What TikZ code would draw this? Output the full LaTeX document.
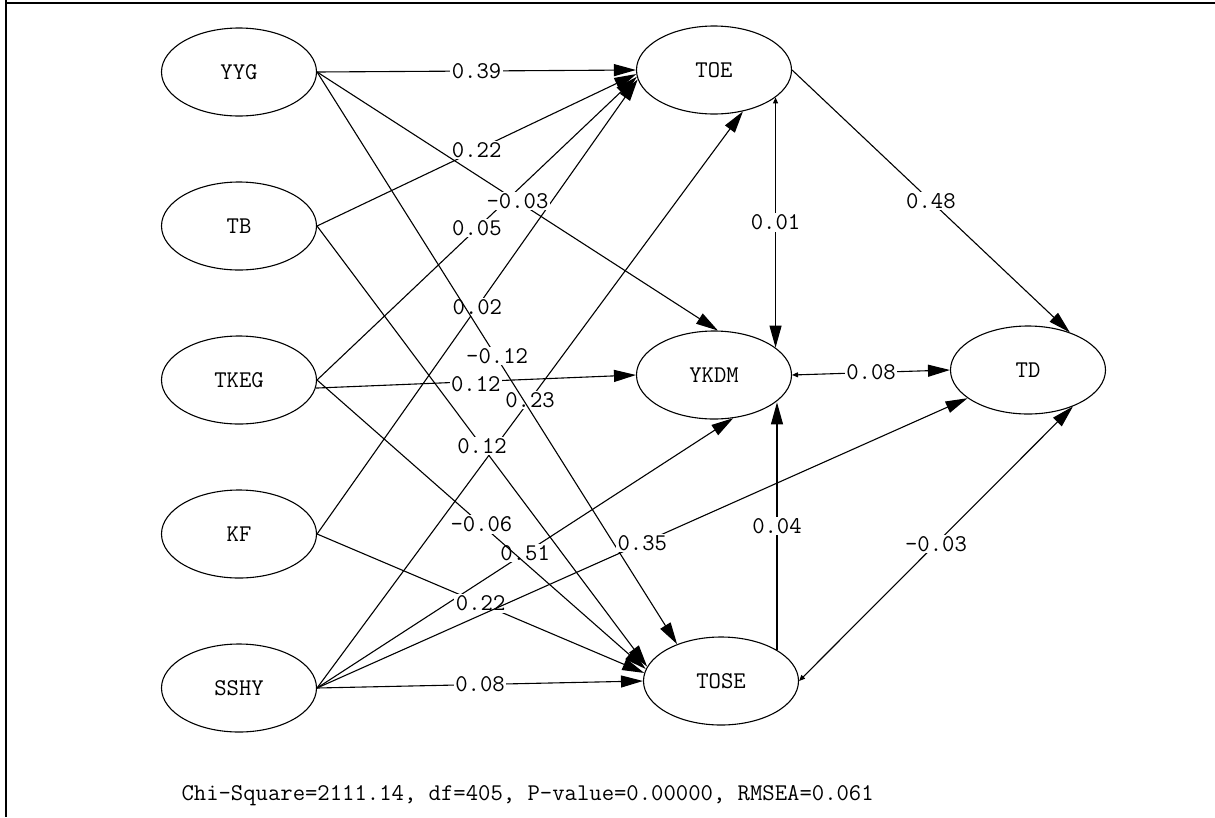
\documentclass[tikz,border=0pt]{standalone}
\usetikzlibrary{shapes.geometric,arrows.meta}
\begin{document}
\begin{tikzpicture}[x=1pt,y=-1pt,
  lat/.style={ellipse,draw,line width=1.1pt,minimum width=155pt,minimum height=88pt,inner sep=0pt,font=\ttfamily\fontsize{24}{28}\selectfont},
  conn/.style={line width=1.1pt,-{Triangle[length=22pt,width=12pt]}},
  both/.style={line width=1.1pt,{Triangle[length=6pt,width=5pt]}-{Triangle[length=22pt,width=12pt]}},
  lbl/.style={fill=white,inner sep=1.5pt,font=\ttfamily\fontsize{24}{28}\selectfont},
  frame/.style={line width=2.5pt}]
\useasboundingbox (0,0) rectangle (1215,817);
\coordinate (f1) at (6,0);
\coordinate (f2) at (6,817);
\coordinate (f3) at (5,3);
\coordinate (f4) at (1215,3);
\draw[frame] (f1) -- (f2);
\draw[frame] (f3) -- (f4);

\node[lat] (YYG)  at (239,72)  {YYG};
\node[lat] (TB)   at (239,226) {TB};
\node[lat] (TKEG) at (239,380) {TKEG};
\node[lat] (KF)   at (239,534) {KF};
\node[lat] (SSHY) at (239,688) {SSHY};
\node[lat] (TOE)  at (714,70)  {TOE};
\node[lat] (YKDM) at (714,375) {YKDM};
\node[lat] (TOSE) at (721,681) {TOSE};
\node[lat] (TD)   at (1028,370) {TD};

\draw[conn] (YYG.east) -- node[lbl]{0.39} (TOE.west);
\draw[conn] (TB.east) -- node[lbl]{0.22} (TOE.183);
\draw[conn] (TKEG.east) -- node[lbl]{0.05} (TOE.185);
\draw[conn] (KF.east) -- node[lbl]{0.02} (TOE.187);
\draw[conn] (SSHY.east) -- node[lbl]{0.23} (TOE.-55);
\draw[conn] (YYG.east) -- node[lbl]{-0.03} (YKDM.85);
\draw[conn] (TKEG.-6) -- node[lbl,yshift=-3pt]{0.12} (YKDM.west);
\draw[conn] (SSHY.east) -- node[lbl]{0.51} (YKDM.-66);
\draw[conn] (YYG.east) -- node[lbl,yshift=2pt]{-0.12} (TOSE.140);
\draw[conn] (TB.east) -- node[lbl]{0.12} (TOSE.169);
\draw[conn] (TKEG.east) -- node[lbl]{-0.06} (TOSE.171);
\draw[conn] (KF.east) -- node[lbl]{0.22} (TOSE.174);
\draw[conn] (SSHY.east) -- node[lbl]{0.08} (TOSE.west);
\draw[conn] (SSHY.east) -- node[lbl]{0.35} (TD.205);
\draw[both] (TOE.-24) -- node[lbl]{0.01} (TOE.-24 |- YKDM.24);
\draw[conn] (TOSE.29) -- node[lbl]{0.04} (TOSE.29 |- YKDM.-24);
\draw[conn] (TOE.east) -- node[lbl]{0.48} (TD.42);
\draw[both] (YKDM.east) -- node[lbl]{0.08} (TD.west);
\draw[both] (TOSE.east) -- node[lbl]{-0.03} (TD.-39);

\node[font=\ttfamily\fontsize{24}{28}\selectfont,anchor=west] (fit) at (178,796) {Chi-Square=2111.14, df=405, P-value=0.00000, RMSEA=0.061};
\end{tikzpicture}
\end{document}
